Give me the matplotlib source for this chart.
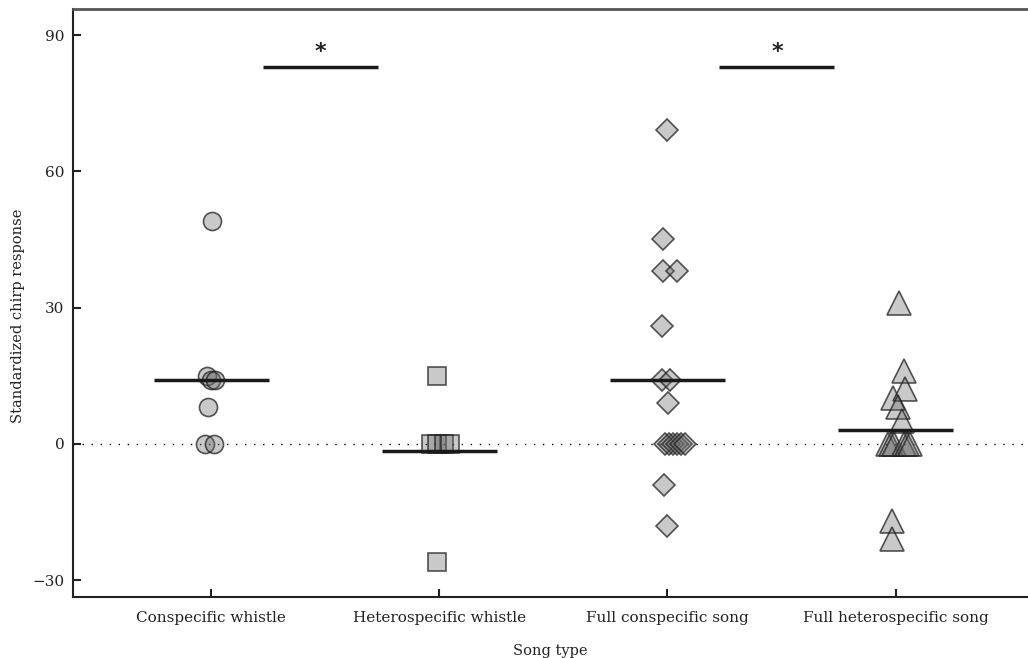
import matplotlib
matplotlib.use("Agg")
from matplotlib import pyplot as plt

plt.rcParams['font.family'] = ['DejaVu Serif', 'Liberation Serif']

categories = ['Conspecific whistle', 'Heterospecific whistle',
              'Full conspecific song', 'Full heterospecific song']
markers = ['o', 's', 'D', '^']
sizes = [13, 12.5, 11.5, 17]

# values per song type, with a small horizontal jitter (pixels / 228)
vals_cw = [49, 15, 14, 14, 8, 0, 0]
jit_cw = [0.004, -0.018, 0.0, 0.018, -0.013, -0.026, 0.013]

vals_hw = [15, 0, 0, 0, 0, -26]
jit_hw = [-0.009, -0.035, -0.009, 0.022, 0.048, -0.009]

vals_fc = [69, 45, 38, 38, 26, 14, 14, 9, 0, 0, 0, 0, 0, 0, -9, -18]
jit_fc = [0.0, -0.018, -0.018, 0.044, -0.026, -0.022, 0.013, 0.004,
          -0.009, 0.009, 0.026, 0.044, 0.061, 0.075, -0.013, -0.004]

vals_fh = [31, 16, 10, 12, 8, 5, 0, 0, 0, 0, 0, 0, -17, -21]
jit_fh = [0.013, 0.035, -0.013, 0.039, 0.009, 0.026,
          -0.035, -0.022, -0.009, 0.035, 0.048, 0.061, -0.018, -0.018]

values = [vals_cw, vals_hw, vals_fc, vals_fh]
jitter = [jit_cw, jit_hw, jit_fc, jit_fh]
means = [14, -1.5, 14, 3]

# significance bars
sig_pairs = [(0, 1), (2, 3)]
sig_y = 83

fig = plt.figure(figsize=(10.28, 6.58), dpi=100)
ax = fig.add_axes([0.071, 0.093, 0.929, 0.893])

ax.axhline(0, color='black', linestyle=(0, (1, 5.5)), linewidth=1.0, zorder=1)

for i in range(len(categories)):
    xs = [i + j for j in jitter[i]]
    ax.plot(xs, values[i], linestyle='none', marker=markers[i],
            markersize=sizes[i], markerfacecolor=(0.42, 0.42, 0.42, 0.36),
            markeredgecolor=(0.12, 0.12, 0.12, 0.75), markeredgewidth=1.2,
            zorder=3)
    ax.plot([i - 0.252, i + 0.252], [means[i], means[i]], color='#1a1a1a',
            linewidth=2.5, solid_capstyle='butt', zorder=4)

for a, b in sig_pairs:
    ax.plot([a + 0.228, b - 0.268], [sig_y, sig_y], color='#1a1a1a',
            linewidth=2.5, solid_capstyle='butt')
    ax.text((a + b) / 2 - 0.02, 86.3, '*', ha='center', va='center',
            fontsize=16, fontweight='bold', family='DejaVu Sans',
            color='#222222')

ax.set_xlim(-0.605, 3.58)
ax.set_ylim(-33.7, 95.7)
ax.set_xticks(range(len(categories)))
ax.set_xticklabels(categories)
ax.set_yticks([-30, 0, 30, 60, 90])
ax.set_yticklabels(['\u221230', '0', '30', '60', '90'])
ax.tick_params(direction='in', length=6, width=1.5, labelsize=11,
               colors='#222222')
ax.tick_params(axis='x', pad=10)
ax.tick_params(axis='y', pad=6)

ax.spines['right'].set_visible(False)
ax.spines['top'].set_color('#555555')
ax.spines['top'].set_linewidth(2)
ax.spines['left'].set_linewidth(1.5)
ax.spines['bottom'].set_linewidth(1.5)
ax.spines['left'].set_color('#222222')
ax.spines['bottom'].set_color('#222222')

ax.set_xlabel('Song type', fontsize=10.5, color='#222222', labelpad=14)
ax.set_ylabel('Standardized chirp response', fontsize=10.5, color='#222222')
ax.yaxis.set_label_coords(-0.05, 0.478)

fig.savefig('out.png', dpi=100)
